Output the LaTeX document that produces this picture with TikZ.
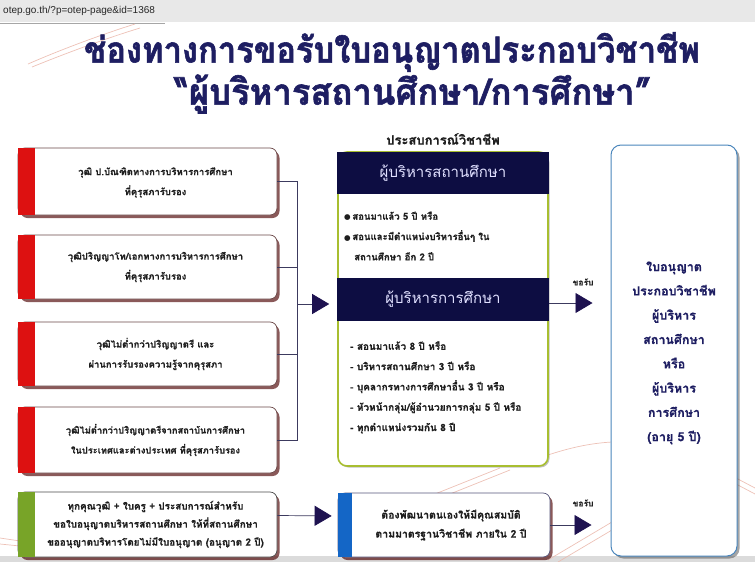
\documentclass[tikz,border=0pt]{standalone}
\usepackage{graphicx}
\usepackage{fontspec}
\setmainfont{Liberation Sans}
\newfontfamily\thai[Script=Thai]{Loma}
\newfontfamily\thaib[Script=Thai,BoldFeatures={FakeBold=0.6}]{Loma}
\newfontfamily\thaititle[Script=Thai,BoldFeatures={FakeBold=1.6}]{Loma}
\newfontfamily\dejavu{DejaVu Sans}
\usetikzlibrary{arrows.meta,shadows,calc}
\definecolor{navy}{HTML}{0D0D42}
\definecolor{titleblue}{HTML}{1E1E62}
\definecolor{olive}{HTML}{A8BE30}
\definecolor{redbar}{HTML}{DD1111}
\definecolor{greenbar}{HTML}{78A428}
\definecolor{bluebar}{HTML}{1466C6}
\definecolor{licborder}{HTML}{4A86BC}
\definecolor{decoc}{HTML}{EBB7AA}
\definecolor{linec}{HTML}{3C3A5E}
\definecolor{textc}{HTML}{1E1E1E}
\definecolor{arrowc}{HTML}{1E1250}
\definecolor{boxline}{HTML}{6B4848}
\begin{document}
\begin{tikzpicture}[x=1pt,y=-1pt,
  shad/.style={drop shadow={shadow xshift=2.5pt,shadow yshift=-3pt,fill=black!70!red,opacity=0.65}},
  qbox/.style={draw=boxline,line width=0.7pt,fill=white,rounded corners=7pt,
    minimum width=259pt,inner sep=0pt,shad},
  qtext/.style={font=\thaib\bfseries\fontsize{9.5}{20}\selectfont,text=textc,align=center,inner sep=0pt},
  hdr/.style={fill=navy,minimum width=211.5pt,inner sep=0pt,text=white!88!blue,font=\thai\fontsize{15}{17}\selectfont},
  btext/.style={font=\thaib\bfseries\fontsize{10}{20.3}\selectfont,text=textc,align=left,inner sep=0pt,anchor=west},
  lictext/.style={font=\thaib\bfseries\fontsize{12.5}{24.3}\selectfont,text=titleblue,align=center,inner sep=0pt},
  conn/.style={draw=linec,line width=0.7pt},
  arr/.style={conn,-{Triangle[length=17pt,width=20pt,color=arrowc]}},
  lbl/.style={font=\thaib\bfseries\fontsize{8.5}{10}\selectfont,text=textc,inner sep=0pt},
  decol/.style={draw=decoc,line width=0.7pt,opacity=0.85}
]
\useasboundingbox (0,0) rectangle (755,562);
\fill[white] (0,0) rectangle (755,562);
% browser bars
\fill[black!9] (0,0) rectangle (755,22);
\draw[black!35,line width=1pt] (0,23) -- (165,23);
\node[anchor=west,font=\fontsize{10}{12}\selectfont,text=black!85,inner sep=0pt] (url) at (3,11) {otep.go.th/?p=otep-page\&id=1368};
\fill[black!14] (0,556) rectangle (755,562);
% decorative lines
\draw[decol] (28,64) .. controls (60,50) and (100,35) .. (135,24);
\draw[decol] (32,67) .. controls (64,54) and (104,39) .. (140,28);
\draw[decol] (0,538) -- (20,541);
\draw[decol] (0,544) -- (20,546);
\draw[decol] (420,500) -- (500,468);
\draw[decol] (430,502) -- (510,470);
\draw[decol] (548,560) -- (612,522);
\draw[decol] (558,562) -- (612,530);
\draw[decol] (548,455) .. controls (575,446) and (595,443) .. (612,442);
\draw[decol] (736,478) -- (755,488);
\draw[decol] (736,484) -- (755,494);
% title
\node[font=\thaititle\bfseries\fontsize{36}{40}\selectfont,text=titleblue,inner sep=0pt] (title1) at (392,52) {\scalebox{0.91}[1]{ช่องทางการขอรับใบอนุญาตประกอบวิชาชีพ}};
\node[font=\thaititle\bfseries\fontsize{36}{40}\selectfont,text=titleblue,inner sep=0pt] (title2) at (413,94) {\scalebox{0.96}[1]{“ผู้บริหารสถานศึกษา/การศึกษา”}};
% left boxes
\node[qbox,minimum height=67pt] (q1) at (147.5,181.5) {};
\fill[redbar] (q1.north west) rectangle ($(q1.south west)+(17,0)$);
\node[qtext] (t1) at ($(q1.center)+(8,1)$) {วุฒิ ป.บัณฑิตทางการบริหารการศึกษา\\ที่คุรุสภารับรอง};
\node[qbox,minimum height=64pt] (q2) at (147.5,267) {};
\fill[redbar] (q2.north west) rectangle ($(q2.south west)+(17,0)$);
\node[qtext] (t2) at ($(q2.center)+(8,0)$) {วุฒิปริญญาโท/เอกทางการบริหารการศึกษา\\ที่คุรุสภารับรอง};
\node[qbox,minimum height=64pt] (q3) at (147.5,354) {};
\fill[redbar] (q3.north west) rectangle ($(q3.south west)+(17,0)$);
\node[qtext] (t3) at ($(q3.center)+(8,0)$) {วุฒิไม่ต่ำกว่าปริญญาตรี และ\\ผ่านการรับรองความรู้จากคุรุสภา};
\node[qbox,minimum height=66pt] (q4) at (147.5,440) {};
\fill[redbar] (q4.north west) rectangle ($(q4.south west)+(17,0)$);
\node[qtext,font=\thaib\bfseries\fontsize{9.3}{20}\selectfont] (t4) at ($(q4.center)+(8,0)$) {วุฒิไม่ต่ำกว่าปริญญาตรีจากสถาบันการศึกษา\\ในประเทศและต่างประเทศ ที่คุรุสภารับรอง};
\node[qbox,minimum height=65pt,draw=black!70] (q5) at (147.5,524.5) {};
\fill[greenbar] (q5.north west) rectangle ($(q5.south west)+(17,0)$);
\node[qtext,font=\thaib\bfseries\fontsize{9.9}{18}\selectfont] (t5) at ($(q5.center)+(8,0)$) {ทุกคุณวุฒิ + ใบครู + ประสบการณ์สำหรับ\\ขอใบอนุญาตบริหารสถานศึกษา ให้ที่สถานศึกษา\\ขออนุญาตบริหารโดยไม่มีใบอนุญาต (อนุญาต 2 ปี)};
% bracket connectors
\coordinate (jn) at (297,304);
\draw[conn] (q1.east) -- (q1.east -| jn) -- (q4.east -| jn) -- (q4.east);
\draw[conn] (q2.east) -- (q2.east -| jn);
\draw[conn] (q3.east) -- (q3.east -| jn);
% middle box
\node[font=\thaib\bfseries\fontsize{13}{15}\selectfont,text=textc,inner sep=0pt] (exp) at (443,139) {ประสบการณ์วิชาชีพ};
\node[draw=olive,line width=1.6pt,fill=white,rounded corners=9pt,minimum width=210pt,minimum height=314pt,inner sep=0pt,
  drop shadow={shadow xshift=1.5pt,shadow yshift=-1.5pt,fill=black!60,opacity=0.4}] (mid) at (443,309) {};
\node[hdr,minimum height=42pt] (h1) at (443,173) {ผู้บริหารสถานศึกษา};
\node[btext,font=\thaib\bfseries\fontsize{9.6}{20.3}\selectfont] (b1) at (344,236) {{\dejavu\fontsize{7.5}{20.3}\selectfont ●}\,สอนมาแล้ว 5 ปี หรือ\\{\dejavu\fontsize{7.5}{20.3}\selectfont ●}\,สอนและมีตำแหน่งบริหารอื่นๆ ใน\\\hspace*{10pt}สถานศึกษา อีก 2 ปี};
\node[hdr,minimum height=43pt] (h2) at (443,299.5) {ผู้บริหารการศึกษา};
\node[btext] (b2) at (350,387.5) {- สอนมาแล้ว 8 ปี หรือ\\- บริหารสถานศึกษา 3 ปี หรือ\\- บุคลากรทางการศึกษาอื่น 3 ปี หรือ\\- หัวหน้ากลุ่ม/ผู้อำนวยการกลุ่ม 5 ปี หรือ\\- ทุกตำแหน่งรวมกัน 8 ปี};
% bottom middle box
\node[qbox,minimum width=212pt,minimum height=64pt,draw=navy!70] (dev) at (444,525) {};
\fill[bluebar] (dev.north west) rectangle ($(dev.south west)+(14,0)$);
\node[qtext,font=\thaib\bfseries\fontsize{10.5}{19}\selectfont] (t6) at ($(dev.center)+(7,0)$) {ต้องพัฒนาตนเองให้มีคุณสมบัติ\\ตามมาตรฐานวิชาชีพ ภายใน 2 ปี};
% licence box
\node[draw=licborder,line width=1pt,fill=white,rounded corners=10pt,minimum width=126pt,minimum height=411pt,inner sep=0pt,
  drop shadow={shadow xshift=2.5pt,shadow yshift=-2.5pt,fill=black!70,opacity=0.5}] (lic) at (674,350.5) {};
\node[lictext] (lt) at (674,353) {ใบอนุญาต\\ประกอบวิชาชีพ\\ผู้บริหาร\\สถานศึกษา\\หรือ\\ผู้บริหาร\\การศึกษา\\(อายุ 5 ปี)};
% arrows
\draw[arr,shorten >=8pt] (jn) -- (jn -| mid.west);
\draw[arr,shorten >=6pt] ($(q5.east)+(0,-9)$) -- ($(dev.west)+(0,-9)$);
\draw[arr,shorten >=18pt] ($(mid.east)+(0,-6)$) -- ($(lic.west)+(0,-47.5)$);
\draw[arr,shorten >=19pt] (dev.east) -- (dev.east -| lic.west);
\node[lbl] (k1) at (583,282) {ขอรับ};
\node[lbl] (k2) at (583,503) {ขอรับ};
\end{tikzpicture}
\end{document}
